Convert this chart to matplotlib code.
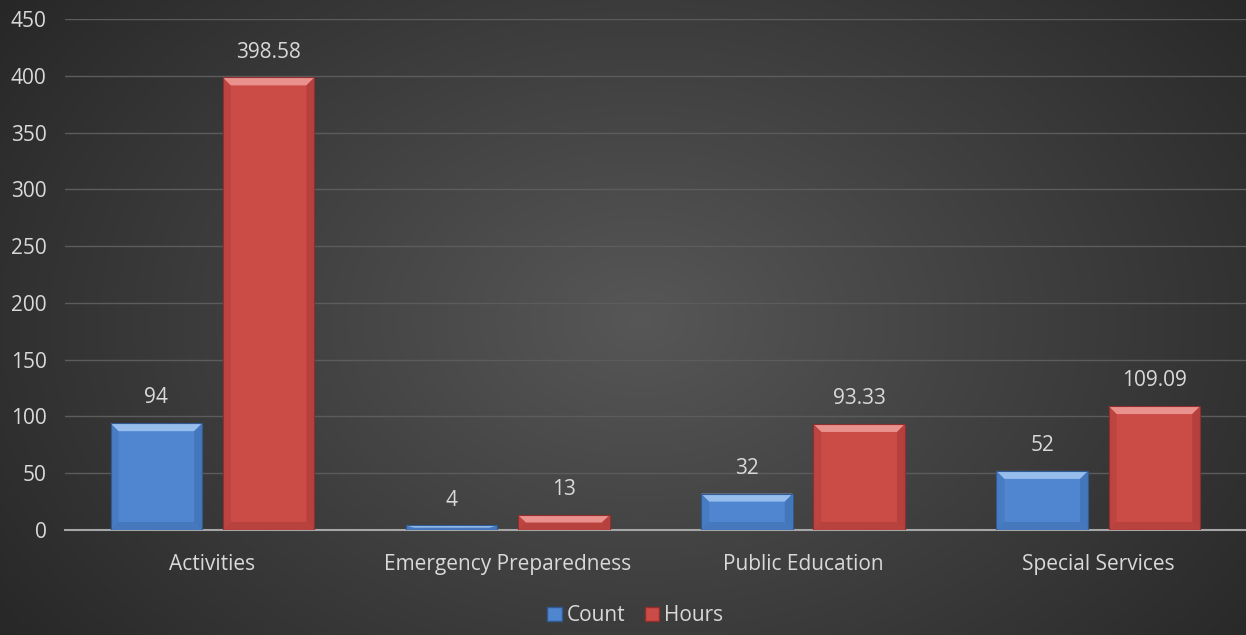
import matplotlib.pyplot as plt
from matplotlib.patches import Polygon, Patch
import numpy as np

plt.rcParams['font.family'] = ['Open Sans', 'DejaVu Sans']

categories = ['Activities', 'Emergency Preparedness', 'Public Education', 'Special Services']
count = [94, 4, 32, 52]
hours = [398.58, 13, 93.33, 109.09]
count_labels = ['94', '4', '32', '52']
hours_labels = ['398.58', '13', '93.33', '109.09']
yticks = [0, 50, 100, 150, 200, 250, 300, 350, 400, 450]

text_col = '#d9d9d9'
fs = 15

fig = plt.figure(figsize=(12.46, 6.35), dpi=100)

# radial background gradient
bg = fig.add_axes([0, 0, 1, 1], zorder=-10)
yy, xx = np.mgrid[0:635, 0:1246]
r = np.sqrt(((xx - 640) / 800.0) ** 2 + ((yy - 320) / 560.0) ** 2)
shade = np.clip(0.34 - 0.19 * r, 0.15, 0.34)
bg.imshow(np.dstack([shade] * 3), aspect='auto', extent=[0, 1, 0, 1])
bg.axis('off')

ax = fig.add_axes([0.052, 0.1654, 0.948, 0.8046])
ax.patch.set_alpha(0)
ax.set_ylim(0, 450)
ax.set_xlim(-0.5, 3.5)
ax.set_yticks(yticks)
ax.set_yticklabels([str(v) for v in yticks])
ax.yaxis.grid(True, color='#5c5c5c', linewidth=1)
ax.set_axisbelow(True)
for s in ['top', 'right', 'left']:
    ax.spines[s].set_visible(False)
ax.spines['bottom'].set_color('#a6a6a6')
ax.spines['bottom'].set_linewidth(1.5)
ax.tick_params(length=0, colors=text_col, labelsize=fs)
ax.tick_params(axis='y', pad=13)
ax.tick_params(axis='x', pad=17)
x = np.arange(len(categories))
ax.set_xticks(x)
ax.set_xticklabels(categories)

width = 0.31
off = 0.19
series = [
    (count, count_labels, -off, '#4f86cf', '#a4c8f2', '#2f5a94'),
    (hours, hours_labels, off, '#cb4b47', '#ee9e9a', '#8f2e2c'),
]

bx = 0.027  # bevel width in x units
for vals, labs, o, face, light, dark in series:
    bars = ax.bar(x + o, vals, width, color=face, zorder=3)
    for b, v, lab in zip(bars, vals, labs):
        x0, x1 = b.get_x(), b.get_x() + b.get_width()
        h = b.get_height()
        by = min(7.0, h / 2)
        # top highlight
        ax.add_patch(Polygon([(x0, h), (x1, h), (x1 - bx, h - by), (x0 + bx, h - by)],
                             closed=True, color=light, zorder=4, lw=0, alpha=0.85))
        # sides
        ax.add_patch(Polygon([(x0, h), (x0 + bx, h - by), (x0 + bx, by), (x0, 0)],
                             closed=True, color=dark, zorder=4, lw=0, alpha=0.22))
        ax.add_patch(Polygon([(x1, h), (x1 - bx, h - by), (x1 - bx, by), (x1, 0)],
                             closed=True, color=dark, zorder=4, lw=0, alpha=0.35))
        ax.add_patch(Polygon([(x0, 0), (x1, 0), (x1 - bx, by), (x0 + bx, by)],
                             closed=True, color=dark, zorder=4, lw=0, alpha=0.3))
        ax.add_patch(plt.Rectangle((x0, 0), x1 - x0, h, fill=False, ec=dark,
                                   lw=0.8, zorder=5))
        ax.text(b.get_x() + b.get_width() / 2, h + 13, lab, ha='center', va='bottom',
                color=text_col, fontsize=fs)

# legend
handles = [Patch(facecolor='#4f86cf', edgecolor='#2f5a94', label='Count'),
           Patch(facecolor='#cb4b47', edgecolor='#8f2e2c', label='Hours')]
fig.legend(handles=handles, loc='center', bbox_to_anchor=(0.51, 0.03), ncol=2,
           frameon=False, fontsize=fs, labelcolor=text_col, handlelength=0.7,
           handleheight=0.7, handletextpad=0.25, columnspacing=0.9)

fig.savefig('out.png', dpi=100)
